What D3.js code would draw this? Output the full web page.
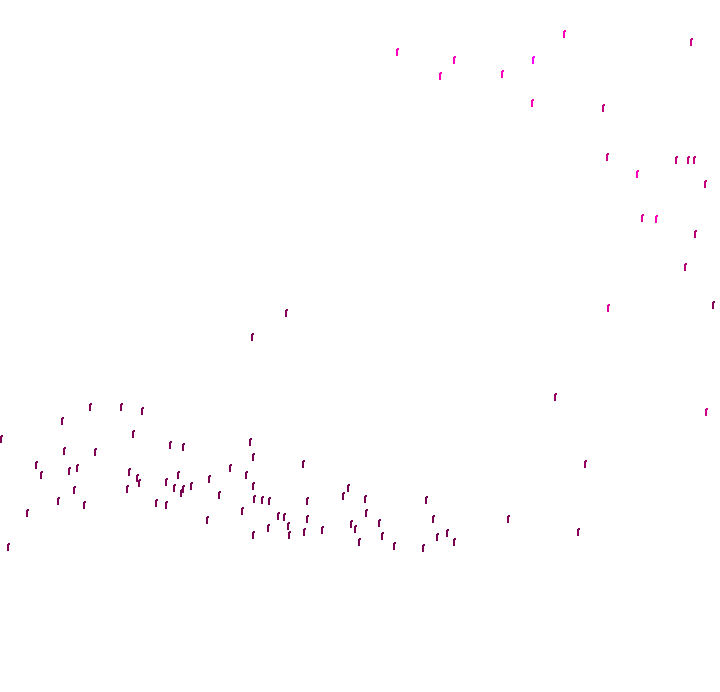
<!DOCTYPE html>
<html>
<head>
<meta charset="utf-8">
<script src="https://cdn.jsdelivr.net/npm/d3@7"></script>
<style>
html, body { margin: 0; padding: 0; background: #ffffff; }
svg { display: block; }
</style>
</head>
<body>
<div id="chart"></div>
<script>
// x position, y position, and intensity (colour) for each mark
const xValues = [397,454,440,502,533,564,532,603,691,607,637,676,688,694,705,642,656,695,685,608,713,286,252,555,706,585,578,508,
  90,121,142,62,1,133,170,64,95,36,41,69,77,129,137,139,166,178,174,74,127,58,84,156,166,27,8,
  183,250,253,230,303,209,246,191,183,181,253,219,254,262,269,307,242,207,278,284,307,268,288,322,304,253,289,
  348,343,365,426,366,433,379,351,355,382,437,447,454,359,394,423];
const yValues = [52,60,76,74,60,34,103,108,42,157,174,160,160,160,184,218,219,234,267,308,305,313,337,397,412,464,532,519,
  407,407,411,421,439,434,445,451,452,465,475,471,468,472,478,483,482,475,488,490,489,501,505,503,505,513,547,
  447,442,457,468,464,479,475,486,489,493,486,495,499,500,501,501,511,520,516,517,519,528,526,530,532,535,535,
  488,496,499,500,513,519,523,524,529,536,537,533,542,542,546,548];
const intensity = [0.8,0.8,0.8,0.8,1.0,0.8,0.8,0.5,0.55,0.55,0.8,0.5,0.5,0.5,0.5,0.65,0.8,0.45,0.4,0.65,0.1,0.1,0.05,0.2,0.55,0.2,0.1,0.1,
  0.05,0.05,0.05,0.05,0.05,0.05,0.05,0.05,0.05,0.05,0.05,0.05,0.05,0.05,0.05,0.05,0.05,0.05,0.05,0.05,0.05,0.05,0.05,0.05,0.05,0.05,0.05,
  0,0,0,0,0,0,0,0,0,0,0,0,0,0,0,0,0,0,0,0,0,0,0,0,0,0,0,
  0,0,0,0,0,0,0,0,0,0,0,0,0,0,0,0];

const width = 720, height = 692;
const data = xValues.map((x, i) => ({ x, y: yValues[i], c: intensity[i] }));

const svg = d3.select("#chart").append("svg")
  .attr("width", width).attr("height", height);

const xScale = d3.scaleLinear().domain([0, 720]).range([0, width]);
const yScale = d3.scaleLinear().domain([0, 692]).range([0, height]);
const color = d3.scaleLinear()
  .domain([0, 0.5, 0.8, 1])
  .range(["#780050", "#c4007e", "#ff00b8", "#ff00ff"]);

const g = svg.append("g");
const marks = g.selectAll("g.mark").data(data).join("g")
  .attr("class", "mark")
  .attr("transform", d => `translate(${Math.round(xScale(d.x))},${Math.round(yScale(d.y))})`);

marks.append("rect")
  .attr("x", -1).attr("y", -3)
  .attr("width", 2).attr("height", 7)
  .attr("fill", d => color(d.c))
  .attr("shape-rendering", "crispEdges");
marks.append("rect")
  .attr("x", 0).attr("y", -4)
  .attr("width", 2).attr("height", 2)
  .attr("fill", d => color(d.c))
  .attr("shape-rendering", "crispEdges");
</script>
</body>
</html>
